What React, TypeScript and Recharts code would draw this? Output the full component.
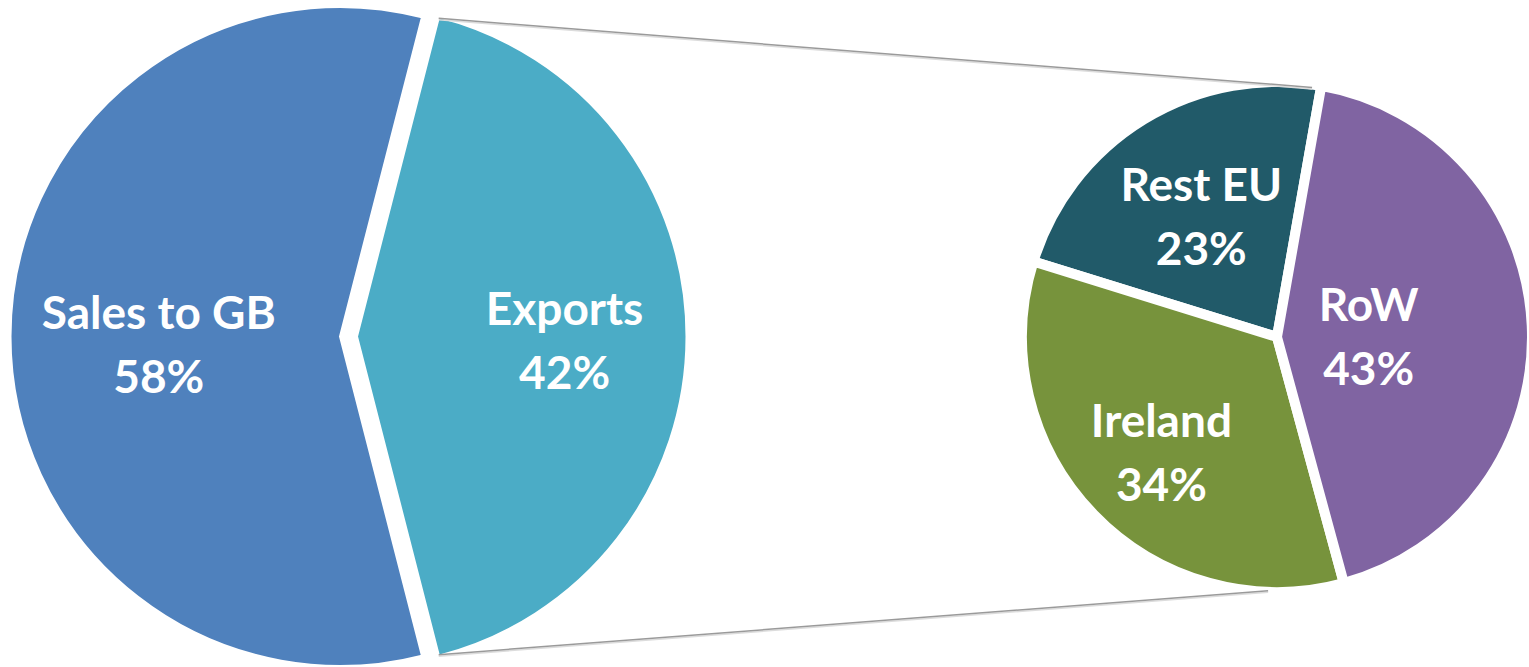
import { PieChart, Pie, Cell, Sector } from "recharts";

// first pie
const mainCategories = ["Sales to GB", "Exports"];
const mainValues = [58, 42];
const mainColors = ["#4F81BD", "#4BACC6"];

// breakdown of exports
const exportCategories = ["Rest EU", "Ireland", "RoW"];
const exportValues = [23, 34, 43];
const exportColors = ["#215A69", "#77933C", "#8064A2"];

const mainData = mainCategories.map((name, i) => ({ name, value: mainValues[i] }));
const exportData = exportCategories.map((name, i) => ({ name, value: exportValues[i] }));

const W = 1529;
const H = 667;
const RAD = Math.PI / 180;

const LEFT_CX = 340;
const LEFT_CY = 336.5;
const LEFT_R = 329.5;
const EXPLODE = 17;

const RIGHT_CX = 1277;
const RIGHT_CY = 337;
const RIGHT_R = 255;
const RIGHT_STROKE = 10;
const RIGHT_START = 80;

// where the connector lines meet the second pie
const CONNECT_TOP = 82;
const CONNECT_BOTTOM = -92;

// how far out each label sits (fraction of radius)
const labelRatio: Record<string, number> = {
    "Sales to GB": 0.55,
    Exports: 0.63,
    "Rest EU": 0.57,
    Ireland: 0.63,
    RoW: 0.36,
};

const exportsShare = mainValues[1] / mainValues.reduce((a, b) => a + b, 0);
const leftStart = exportsShare * 180;

const polar = (cx: number, cy: number, r: number, angle: number) => ({
    x: cx + r * Math.cos(-angle * RAD),
    y: cy + r * Math.sin(-angle * RAD),
});

const explodeOffset = (name: string, mid: number) =>
    name === "Exports"
        ? { dx: EXPLODE * Math.cos(-mid * RAD), dy: EXPLODE * Math.sin(-mid * RAD) }
        : { dx: 0, dy: 0 };

const LeftShape = (props: any) => {
    const name = props.payload?.name ?? props.name;
    if (name !== "Exports") return <Sector {...props} />;
    const mid = (props.startAngle + props.endAngle) / 2;
    const { dx, dy } = explodeOffset(name, mid);
    return <Sector {...props} cx={props.cx + dx} cy={props.cy + dy} />;
};

// connectors are drawn with the last slice of the second pie so they sit on top
const Connectors = () => {
    const ex = LEFT_CX + EXPLODE;
    const a = polar(ex, LEFT_CY, LEFT_R - 1, leftStart);
    const b = polar(ex, LEFT_CY, LEFT_R - 1, -leftStart);
    const rv = RIGHT_R - RIGHT_STROKE / 2 + 2;
    const c = polar(RIGHT_CX, RIGHT_CY, rv, CONNECT_TOP);
    const d = polar(RIGHT_CX, RIGHT_CY, rv + 2, CONNECT_BOTTOM);
    return (
        <g>
            <line x1={a.x} y1={a.y + 1.5} x2={c.x} y2={c.y + 1.5} stroke="#dcdcdc" strokeWidth={1.5} />
            <line x1={b.x} y1={b.y + 1.5} x2={d.x} y2={d.y + 1.5} stroke="#dcdcdc" strokeWidth={1.5} />
            <line x1={a.x} y1={a.y} x2={c.x} y2={c.y} stroke="#9a9a9a" strokeWidth={1.5} />
            <line x1={b.x} y1={b.y} x2={d.x} y2={d.y} stroke="#9a9a9a" strokeWidth={1.5} />
        </g>
    );
};

const RightShape = (props: any) => {
    const name = props.payload?.name ?? props.name;
    if (name !== exportCategories[exportCategories.length - 1]) return <Sector {...props} />;
    return (
        <g>
            <Sector {...props} />
            <Connectors />
        </g>
    );
};

const renderLabel = (props: any) => {
    const { cx, cy, midAngle, outerRadius, value } = props;
    const name = props.payload?.name ?? props.name;
    const { dx, dy } = explodeOffset(name, midAngle);
    const p = polar(cx + dx, cy + dy, outerRadius * (labelRatio[name] ?? 0.6), midAngle);
    const shift = name === "Sales to GB" ? 8 : 4;
    return (
        <text
            x={p.x}
            y={p.y}
            textAnchor="middle"
            fill="#ffffff"
            fontFamily="Lato, 'Open Sans', sans-serif"
            fontWeight={700}
            fontSize={46}
        >
            <tspan x={p.x} y={p.y - 16 + shift}>
                {name}
            </tspan>
            <tspan x={p.x} y={p.y + 48 + shift}>
                {value}%
            </tspan>
        </text>
    );
};

export default function App() {
    return (
        <div style={{ width: W, height: H, background: "#fff" }}>
            <style>{"body{margin:0;overflow:hidden}"}</style>
            <PieChart width={W} height={H} margin={{ top: 0, right: 0, bottom: 0, left: 0 }}>
                <Pie
                    data={mainData}
                    dataKey="value"
                    nameKey="name"
                    cx={LEFT_CX}
                    cy={LEFT_CY}
                    outerRadius={LEFT_R}
                    startAngle={leftStart}
                    endAngle={leftStart + 360}
                    stroke="#ffffff"
                    strokeWidth={2}
                    shape={LeftShape}
                    label={renderLabel}
                    labelLine={false}
                    isAnimationActive={false}
                >
                    {mainData.map((d, i) => (
                        <Cell key={d.name} fill={mainColors[i]} />
                    ))}
                </Pie>
                <Pie
                    data={exportData}
                    dataKey="value"
                    nameKey="name"
                    cx={RIGHT_CX}
                    cy={RIGHT_CY}
                    outerRadius={RIGHT_R}
                    startAngle={RIGHT_START}
                    endAngle={RIGHT_START + 360}
                    stroke="#ffffff"
                    strokeWidth={RIGHT_STROKE}
                    shape={RightShape}
                    label={renderLabel}
                    labelLine={false}
                    isAnimationActive={false}
                >
                    {exportData.map((d, i) => (
                        <Cell key={d.name} fill={exportColors[i]} />
                    ))}
                </Pie>
            </PieChart>
        </div>
    );
}
